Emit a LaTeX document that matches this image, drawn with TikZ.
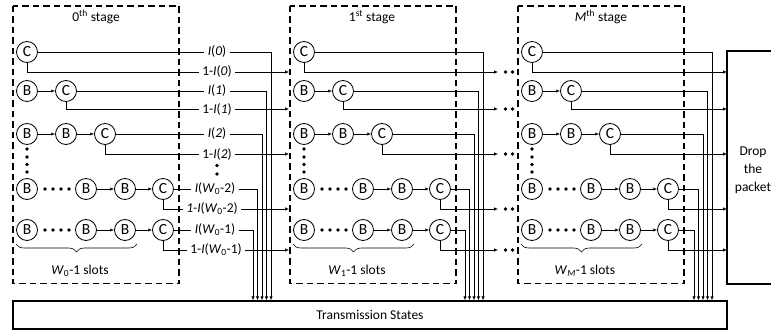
\documentclass[tikz,border=0pt]{standalone}
\usepackage{fontspec}
\setmainfont{Carlito}
\usetikzlibrary{arrows.meta,decorations.pathreplacing,calc}
\begin{document}
\begin{tikzpicture}[x=1pt,y=-1pt,
  st/.style={circle,draw,line width=0.85pt,minimum size=21pt,inner sep=0pt,font=\fontsize{15.5}{15.5}\selectfont},
  conn/.style={line width=0.6pt},
  arr/.style={conn,-{Latex[length=3.8pt,width=3.2pt]}},
  stagebox/.style={draw,line width=1.5pt,dash pattern=on 6.5pt off 4pt},
  lab/.style={fill=white,inner ysep=1pt,inner xsep=3.5pt,font=\fontsize{13.5}{13.5}\selectfont},
  txt/.style={font=\fontsize{13.5}{13.5}\selectfont,inner sep=0pt},
  dotc/.style={circle,fill,inner sep=0pt,minimum size=3.6pt},
  bigbox/.style={draw,line width=1.5pt},
]
\useasboundingbox (0,0) rectangle (771,331);

% transmission states
\node[bigbox,minimum width=714pt,minimum height=28pt,inner sep=0pt,txt] (trans) at (370,315) {Transmission States};
% drop box
\draw[bigbox] (790,51) -- (727,51) -- (727,284) -- (790,284);
\coordinate (dropw) at (727,167);
\node[txt,align=center,font=\fontsize{13.5}{18}\selectfont] (droptxt) at (753,170) {Drop\\the\\packet};

\foreach \s/\dx/\vx/\tx in {0/0/253/289,1/277/465/498,M/505/694/727}{
  % stage box
  \draw[stagebox] (13+\dx,6) rectangle (179+\dx,283.5);
  % nodes
  \node[st] (C0\s) at (27+\dx,52) {C};
  \node[st] (B1a\s) at (27+\dx,91) {B};
  \node[st] (C1\s) at (66+\dx,91) {C};
  \node[st] (B2a\s) at (27+\dx,134) {B};
  \node[st] (B2b\s) at (66+\dx,134) {B};
  \node[st] (C2\s) at (105+\dx,134) {C};
  \node[st] (B3a\s) at (27+\dx,189) {B};
  \node[st] (B3b\s) at (86+\dx,189) {B};
  \node[st] (B3c\s) at (125+\dx,189) {B};
  \node[st] (C3\s) at (163+\dx,189) {C};
  \node[st] (B4a\s) at (27+\dx,230) {B};
  \node[st] (B4b\s) at (86+\dx,230) {B};
  \node[st] (B4c\s) at (125+\dx,230) {B};
  \node[st] (C4\s) at (163+\dx,230) {C};
  % arrows within stage
  \draw[arr] (B1a\s) -- (C1\s);
  \draw[arr] (B2a\s) -- (B2b\s);
  \draw[arr] (B2b\s) -- (C2\s);
  \draw[arr] (B3b\s) -- (B3c\s);
  \draw[arr] (B3c\s) -- (C3\s);
  \draw[arr] (B4b\s) -- (B4c\s);
  \draw[arr] (B4c\s) -- (C4\s);
  % dots
  \foreach \k/\xx in {1/45,2/53,3/61,4/69}{
    \node[dotc] (hd3\k\s) at (\xx+\dx,189) {};
    \node[dotc] (hd4\k\s) at (\xx+\dx,230) {};
  }
  \foreach \k/\yy in {1/149,2/157,3/164.5,4/172}{
    \node[dotc] (vd\k\s) at (27+\dx,\yy) {};
  }
  % brace
  \draw[conn,decorate,decoration={brace,mirror,amplitude=8pt}] (16+\dx,244) -- (137+\dx,244);
  % output lines
  \foreach \r/\ly/\off in {0/72/18,1/109/13.5,2/154/9,3/209/4.5,4/250/0}{
    \coordinate (e\r\s) at (\tx,\ly);
    \coordinate (v\r\s) at (\vx+\off,0 |- trans.north);
    \draw[arr] (C\r\s.east) -| (v\r\s);
    \draw[arr] (C\r\s.south) |- (e\r\s);
  }
}

% dots between stage 1 and stage M
\foreach \k/\ly in {0/72,1/109,2/154,3/209,4/250}{
  \node[dotc] (ga\k) at (505.5,\ly) {};
  \node[dotc] (gb\k) at (512.5,\ly) {};
}

% stage titles
\node[txt] (t0) at (96,17) {0\textsuperscript{th} stage};
\node[txt] (t1) at (372,17) {1\textsuperscript{st} stage};
\node[txt] (tM) at (601,17) {\textit{M}\textsuperscript{th} stage};

% slot labels
\node[txt] (s0) at (80,271) {\textit{W}\textsubscript{0}-1 slots};
\node[txt] (s1) at (357,271) {\textit{W}\textsubscript{1}-1 slots};
\node[txt] (sM) at (585,271) {\textit{W}\textsubscript{\textit{M}}-1 slots};

% stage 0 labels
\node[lab] (l0) at (217,52) {\textit{I}(\textit{0})};
\node[lab] (l0b) at (217,72) {1-\textit{I}(\textit{0})};
\node[lab] (l1) at (217,91) {\textit{I}(\textit{1})};
\node[lab] (l1b) at (217,109) {1-\textit{I}(\textit{1})};
\node[lab] (l2) at (217,134) {\textit{I}(\textit{2})};
\node[lab] (l2b) at (217,154) {1-\textit{I}(\textit{2})};
\node[lab] (l3) at (215,189) {\textit{I}(\textit{W}\textsubscript{0}-2)};
\node[lab] (l3b) at (212,209) {\textit{1-I}(\textit{W}\textsubscript{0}-2)};
\node[lab] (l4) at (215,230) {\textit{I}(\textit{W}\textsubscript{0}-1)};
\node[lab] (l4b) at (216,250) {1-\textit{I}(\textit{W}\textsubscript{0}-1)};
\node[dotc] (ld1) at (217,165.5) {};
\node[dotc] (ld2) at (217,174) {};
\end{tikzpicture}
\end{document}
